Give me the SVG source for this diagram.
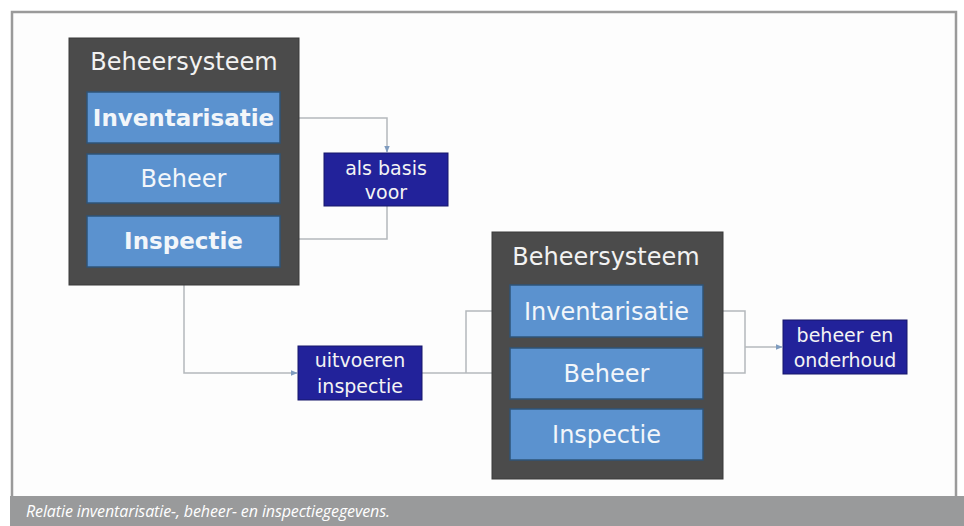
<svg xmlns="http://www.w3.org/2000/svg" width="964" height="526" viewBox="0 0 964 526">
<style>
.cont{fill:#4b4b4b;stroke:#3a3a3a;stroke-width:1}
.blue{fill:#5b92cf;stroke:#2f5478;stroke-width:1.5}
.navy{fill:#22229a;stroke:#16166a;stroke-width:1}
.title{font-family:"DejaVu Sans",sans-serif;font-size:24px;fill:#f2f2f2;text-anchor:middle}
.item{font-family:"DejaVu Sans",sans-serif;font-size:24px;fill:#f2f6fa;text-anchor:middle}
.bold{font-weight:bold;font-size:23px}
.lbl{font-family:"DejaVu Sans",sans-serif;font-size:19px;fill:#f4f4f4;text-anchor:middle}
.conn{fill:none;stroke:#b4b8bc;stroke-width:1.5}
</style>
<defs>
<marker id="arr" viewBox="0 0 10 10" refX="9" refY="5" markerWidth="7" markerHeight="7" orient="auto" markerUnits="userSpaceOnUse">
<path d="M0,1 L10,5 L0,9 z" fill="#7f9cbf"/>
</marker>
</defs>
<rect x="0" y="0" width="964" height="526" fill="#ffffff"/>
<rect x="12" y="12" width="944" height="486" fill="#fdfdfd" stroke="#9a9a9a" stroke-width="2.5"/>
<rect x="10" y="496" width="954" height="30" fill="#999a9b"/>
<text x="26" y="517" font-family="'Open Sans','Liberation Sans',sans-serif" font-style="italic" font-size="16" fill="#ffffff" textLength="364">Relatie inventarisatie-, beheer- en inspectiegegevens.</text>

<g id="connectors">
<path class="conn" d="M280,118 H387 V152" marker-end="url(#arr)"/>
<path class="conn" d="M387,206 V239 H286" marker-end="url(#arr)"/>
<path class="conn" d="M184,285 V373 H297" marker-end="url(#arr)"/>
<path class="conn" d="M422,373 H466"/>
<path class="conn" d="M466,373 V311 H509" marker-end="url(#arr)"/>
<path class="conn" d="M466,373 H509" marker-end="url(#arr)"/>
<path class="conn" d="M703,311 H745 V373 H703"/>
<path class="conn" d="M745,347 H782" marker-end="url(#arr)"/>
</g>

<g id="beheersysteem1">
<rect class="cont" x="69" y="38" width="230" height="247"/>
<text class="title" x="184" y="70">Beheersysteem</text>
</g>
<g id="inventarisatie1">
<rect class="blue" x="87" y="92" width="193" height="51"/>
<text class="item bold" x="183.5" y="126">Inventarisatie</text>
</g>
<g id="beheer1">
<rect class="blue" x="87" y="154" width="193" height="49"/>
<text class="item" x="183.5" y="187">Beheer</text>
</g>
<g id="inspectie1">
<rect class="blue" x="87" y="216" width="193" height="51"/>
<text class="item bold" x="183.5" y="249">Inspectie</text>
</g>

<g id="alsbasis">
<rect class="navy" x="324" y="153" width="124" height="53"/>
<text class="lbl" x="386" y="175">als basis</text>
<text class="lbl" x="386" y="199">voor</text>
</g>

<g id="uitvoeren">
<rect class="navy" x="298" y="346" width="124" height="54"/>
<text class="lbl" x="360" y="367">uitvoeren</text>
<text class="lbl" x="360" y="393">inspectie</text>
</g>

<g id="beheersysteem2">
<rect class="cont" x="492" y="232" width="231" height="247"/>
<text class="title" x="606" y="265">Beheersysteem</text>
</g>
<g id="inventarisatie2">
<rect class="blue" x="510" y="285" width="193" height="52"/>
<text class="item" x="606.5" y="320">Inventarisatie</text>
</g>
<g id="beheer2">
<rect class="blue" x="510" y="348" width="193" height="51"/>
<text class="item" x="606.5" y="382">Beheer</text>
</g>
<g id="inspectie2">
<rect class="blue" x="510" y="409" width="193" height="51"/>
<text class="item" x="606.5" y="443">Inspectie</text>
</g>

<g id="beheeronderhoud">
<rect class="navy" x="783" y="320" width="124" height="54"/>
<text class="lbl" x="845" y="342">beheer en</text>
<text class="lbl" x="845" y="367">onderhoud</text>
</g>
</svg>
